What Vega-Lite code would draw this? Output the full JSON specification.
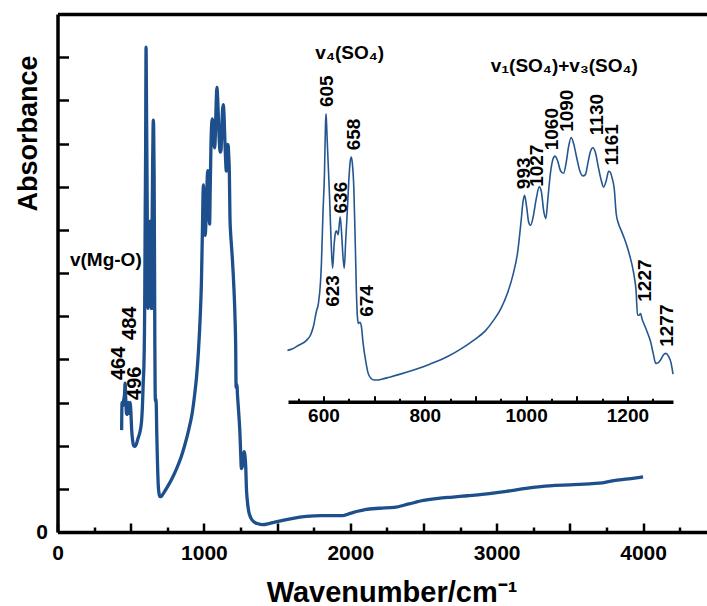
{
  "$schema": "https://vega.github.io/schema/vega-lite/v6.json",
  "width": 650,
  "height": 518,
  "autosize": {"type": "none"},
  "padding": {"left": 57.5, "top": 14, "right": 0, "bottom": 74},
  "background": "white",
  "config": {
    "font": "Liberation Sans",
    "view": {"stroke": null},
    "axis": {
      "grid": false,
      "domainColor": "black",
      "tickColor": "black",
      "labelColor": "black",
      "titleColor": "black",
      "labelFont": "Liberation Sans",
      "titleFont": "Liberation Sans",
      "labelFontWeight": "bold",
      "titleFontWeight": "bold",
      "labelFlush": false,
      "labelOverlap": false
    },
    "text": {"font": "Liberation Sans", "fontWeight": "bold", "color": "black"}
  },
  "datasets": {
    "spectrum": [
      {"wavenumber": 438, "absorbance": 2.36},
      {"wavenumber": 441, "absorbance": 3.0},
      {"wavenumber": 446, "absorbance": 2.92},
      {"wavenumber": 452, "absorbance": 3.05},
      {"wavenumber": 458, "absorbance": 3.2},
      {"wavenumber": 462, "absorbance": 3.45},
      {"wavenumber": 466, "absorbance": 3.1},
      {"wavenumber": 471, "absorbance": 2.75},
      {"wavenumber": 476, "absorbance": 2.72},
      {"wavenumber": 481, "absorbance": 2.95},
      {"wavenumber": 485, "absorbance": 3.0},
      {"wavenumber": 489, "absorbance": 2.75},
      {"wavenumber": 493, "absorbance": 2.78},
      {"wavenumber": 497, "absorbance": 3.0},
      {"wavenumber": 501, "absorbance": 2.8},
      {"wavenumber": 507, "absorbance": 2.35},
      {"wavenumber": 514, "absorbance": 2.1},
      {"wavenumber": 522, "absorbance": 1.99},
      {"wavenumber": 529, "absorbance": 1.98},
      {"wavenumber": 538, "absorbance": 2.03},
      {"wavenumber": 551, "absorbance": 2.18},
      {"wavenumber": 567, "absorbance": 2.38},
      {"wavenumber": 575, "absorbance": 2.6},
      {"wavenumber": 580, "absorbance": 2.9},
      {"wavenumber": 586, "absorbance": 3.5},
      {"wavenumber": 590, "absorbance": 3.81},
      {"wavenumber": 594, "absorbance": 4.6},
      {"wavenumber": 596, "absorbance": 5.39},
      {"wavenumber": 599, "absorbance": 7.34},
      {"wavenumber": 602, "absorbance": 8.9},
      {"wavenumber": 604, "absorbance": 10.8},
      {"wavenumber": 605, "absorbance": 11.23},
      {"wavenumber": 606, "absorbance": 10.9},
      {"wavenumber": 608, "absorbance": 9.9},
      {"wavenumber": 612, "absorbance": 8.0},
      {"wavenumber": 615, "absorbance": 6.3},
      {"wavenumber": 618, "absorbance": 5.18},
      {"wavenumber": 621, "absorbance": 6.1},
      {"wavenumber": 624, "absorbance": 6.6},
      {"wavenumber": 626, "absorbance": 6.65},
      {"wavenumber": 629, "absorbance": 6.5},
      {"wavenumber": 633, "absorbance": 7.2},
      {"wavenumber": 636, "absorbance": 6.5},
      {"wavenumber": 638, "absorbance": 5.8},
      {"wavenumber": 641, "absorbance": 5.18},
      {"wavenumber": 644, "absorbance": 6.3},
      {"wavenumber": 647, "absorbance": 7.4},
      {"wavenumber": 650, "absorbance": 8.6},
      {"wavenumber": 653, "absorbance": 9.4},
      {"wavenumber": 655, "absorbance": 9.54},
      {"wavenumber": 657, "absorbance": 9.3},
      {"wavenumber": 660, "absorbance": 8.3},
      {"wavenumber": 663, "absorbance": 6.0},
      {"wavenumber": 665, "absorbance": 4.3},
      {"wavenumber": 667, "absorbance": 3.3},
      {"wavenumber": 669, "absorbance": 3.03},
      {"wavenumber": 672, "absorbance": 3.08},
      {"wavenumber": 675, "absorbance": 2.9},
      {"wavenumber": 678, "absorbance": 2.3},
      {"wavenumber": 682, "absorbance": 1.73},
      {"wavenumber": 688, "absorbance": 1.1},
      {"wavenumber": 694, "absorbance": 0.88},
      {"wavenumber": 700, "absorbance": 0.82},
      {"wavenumber": 706, "absorbance": 0.82},
      {"wavenumber": 715, "absorbance": 0.85},
      {"wavenumber": 730, "absorbance": 0.93},
      {"wavenumber": 750, "absorbance": 1.04},
      {"wavenumber": 778, "absorbance": 1.21},
      {"wavenumber": 810, "absorbance": 1.44},
      {"wavenumber": 844, "absorbance": 1.73},
      {"wavenumber": 870, "absorbance": 2.02},
      {"wavenumber": 897, "absorbance": 2.38},
      {"wavenumber": 920, "absorbance": 2.75},
      {"wavenumber": 936, "absorbance": 3.16},
      {"wavenumber": 950, "absorbance": 3.6},
      {"wavenumber": 963, "absorbance": 4.2},
      {"wavenumber": 975, "absorbance": 5.0},
      {"wavenumber": 983, "absorbance": 5.77},
      {"wavenumber": 990, "absorbance": 7.0},
      {"wavenumber": 994, "absorbance": 7.8},
      {"wavenumber": 997, "absorbance": 8.04},
      {"wavenumber": 1001, "absorbance": 7.6},
      {"wavenumber": 1005, "absorbance": 7.0},
      {"wavenumber": 1009, "absorbance": 6.87},
      {"wavenumber": 1014, "absorbance": 7.2},
      {"wavenumber": 1020, "absorbance": 7.9},
      {"wavenumber": 1026, "absorbance": 8.37},
      {"wavenumber": 1030, "absorbance": 8.2},
      {"wavenumber": 1035, "absorbance": 7.4},
      {"wavenumber": 1039, "absorbance": 7.13},
      {"wavenumber": 1043, "absorbance": 7.9},
      {"wavenumber": 1048, "absorbance": 8.9},
      {"wavenumber": 1053, "absorbance": 9.45},
      {"wavenumber": 1057, "absorbance": 9.57},
      {"wavenumber": 1062, "absorbance": 9.4},
      {"wavenumber": 1068, "absorbance": 9.0},
      {"wavenumber": 1074, "absorbance": 8.9},
      {"wavenumber": 1079, "absorbance": 9.3},
      {"wavenumber": 1084, "absorbance": 9.95},
      {"wavenumber": 1089, "absorbance": 10.3},
      {"wavenumber": 1094, "absorbance": 10.05},
      {"wavenumber": 1100, "absorbance": 9.5},
      {"wavenumber": 1106, "absorbance": 9.0},
      {"wavenumber": 1112, "absorbance": 8.8},
      {"wavenumber": 1117, "absorbance": 8.85},
      {"wavenumber": 1122, "absorbance": 9.3},
      {"wavenumber": 1127, "absorbance": 9.75},
      {"wavenumber": 1132, "absorbance": 9.9},
      {"wavenumber": 1137, "absorbance": 9.7},
      {"wavenumber": 1142, "absorbance": 9.2},
      {"wavenumber": 1148, "absorbance": 8.65},
      {"wavenumber": 1153, "absorbance": 8.36},
      {"wavenumber": 1158, "absorbance": 8.6},
      {"wavenumber": 1163, "absorbance": 8.98},
      {"wavenumber": 1166, "absorbance": 8.95},
      {"wavenumber": 1170, "absorbance": 8.7},
      {"wavenumber": 1174, "absorbance": 8.3},
      {"wavenumber": 1178, "absorbance": 7.3},
      {"wavenumber": 1183, "absorbance": 6.9},
      {"wavenumber": 1188, "absorbance": 6.65},
      {"wavenumber": 1194, "absorbance": 6.35},
      {"wavenumber": 1200, "absorbance": 6.0},
      {"wavenumber": 1205, "absorbance": 5.65},
      {"wavenumber": 1210, "absorbance": 5.24},
      {"wavenumber": 1214, "absorbance": 4.8},
      {"wavenumber": 1217, "absorbance": 4.33},
      {"wavenumber": 1220, "absorbance": 3.35},
      {"wavenumber": 1223, "absorbance": 3.35},
      {"wavenumber": 1226, "absorbance": 3.42},
      {"wavenumber": 1229, "absorbance": 3.2},
      {"wavenumber": 1234, "absorbance": 2.95},
      {"wavenumber": 1240, "absorbance": 2.65},
      {"wavenumber": 1246, "absorbance": 2.3},
      {"wavenumber": 1251, "absorbance": 1.85},
      {"wavenumber": 1256, "absorbance": 1.47},
      {"wavenumber": 1261, "absorbance": 1.5},
      {"wavenumber": 1266, "absorbance": 1.62},
      {"wavenumber": 1271, "absorbance": 1.8},
      {"wavenumber": 1276, "absorbance": 1.86},
      {"wavenumber": 1281, "absorbance": 1.75},
      {"wavenumber": 1286, "absorbance": 1.5},
      {"wavenumber": 1290, "absorbance": 1.05},
      {"wavenumber": 1296, "absorbance": 0.75},
      {"wavenumber": 1305, "absorbance": 0.5},
      {"wavenumber": 1320, "absorbance": 0.33},
      {"wavenumber": 1340, "absorbance": 0.24},
      {"wavenumber": 1370, "absorbance": 0.19},
      {"wavenumber": 1400, "absorbance": 0.17},
      {"wavenumber": 1450, "absorbance": 0.2},
      {"wavenumber": 1500, "absorbance": 0.24},
      {"wavenumber": 1600, "absorbance": 0.31},
      {"wavenumber": 1700, "absorbance": 0.36},
      {"wavenumber": 1800, "absorbance": 0.38},
      {"wavenumber": 1900, "absorbance": 0.38},
      {"wavenumber": 1950, "absorbance": 0.38},
      {"wavenumber": 2000, "absorbance": 0.43},
      {"wavenumber": 2050, "absorbance": 0.48},
      {"wavenumber": 2100, "absorbance": 0.52},
      {"wavenumber": 2200, "absorbance": 0.55},
      {"wavenumber": 2300, "absorbance": 0.57},
      {"wavenumber": 2400, "absorbance": 0.65},
      {"wavenumber": 2500, "absorbance": 0.73},
      {"wavenumber": 2600, "absorbance": 0.78},
      {"wavenumber": 2700, "absorbance": 0.81},
      {"wavenumber": 2800, "absorbance": 0.84},
      {"wavenumber": 2900, "absorbance": 0.87},
      {"wavenumber": 3000, "absorbance": 0.91},
      {"wavenumber": 3100, "absorbance": 0.96},
      {"wavenumber": 3200, "absorbance": 1.01},
      {"wavenumber": 3300, "absorbance": 1.05},
      {"wavenumber": 3400, "absorbance": 1.08},
      {"wavenumber": 3500, "absorbance": 1.09},
      {"wavenumber": 3600, "absorbance": 1.11},
      {"wavenumber": 3700, "absorbance": 1.13},
      {"wavenumber": 3800, "absorbance": 1.19},
      {"wavenumber": 3900, "absorbance": 1.23},
      {"wavenumber": 4000, "absorbance": 1.28}
    ],
    "mainPeaks": [
      {"label": "464", "wavenumber": 421, "absorbance": 3.52},
      {"label": "484", "wavenumber": 495, "absorbance": 4.45},
      {"label": "496", "wavenumber": 529, "absorbance": 3.06}
    ],
    "mainNotes": [
      {"label": "v(Mg-O)", "wavenumber": 85, "absorbance": 6.3}
    ],
    "insetPeaks": [
      {"label": "605", "wavenumber": 606, "absorbance": 11.49},
      {"label": "623", "wavenumber": 618, "absorbance": 3.68},
      {"label": "636", "wavenumber": 634, "absorbance": 7.33},
      {"label": "658", "wavenumber": 661, "absorbance": 9.8},
      {"label": "674", "wavenumber": 685, "absorbance": 3.29},
      {"label": "993", "wavenumber": 996, "absorbance": 8.28},
      {"label": "1027", "wavenumber": 1022, "absorbance": 8.37},
      {"label": "1060", "wavenumber": 1052, "absorbance": 9.8},
      {"label": "1090", "wavenumber": 1081, "absorbance": 10.52},
      {"label": "1130", "wavenumber": 1139, "absorbance": 10.39},
      {"label": "1161", "wavenumber": 1169, "absorbance": 9.21},
      {"label": "1227", "wavenumber": 1235, "absorbance": 3.88},
      {"label": "1277", "wavenumber": 1279, "absorbance": 2.12}
    ],
    "insetNotes": [
      {"label": "v₄(SO₄)", "wavenumber": 584, "absorbance": 13.38},
      {"label": "v₁(SO₄)+v₃(SO₄)", "wavenumber": 930, "absorbance": 12.86}
    ]
  },
  "resolve": {"scale": {"x": "independent", "y": "independent"}},
  "layer": [
    {
      "data": {"name": "spectrum"},
      "mark": {"type": "line", "color": "#1c4f8b", "strokeWidth": 3.3, "interpolate": "monotone"},
      "encoding": {
        "x": {"field": "wavenumber", "type": "quantitative",
          "scale": {"domain": [0, 4440], "nice": false, "zero": false},
          "axis": {"orient": "bottom", "values": [0, 500, 1000, 1500, 2000, 2500, 3000, 3500, 4000],
            "tickSize": -9, "tickWidth": 2.5, "domainWidth": 3.5, "labels": false, "title": null}},
        "y": {"field": "absorbance", "type": "quantitative",
          "scale": {"domain": [0, 12], "nice": false, "zero": true},
          "axis": {"orient": "left", "values": [0, 1, 2, 3, 4, 5, 6, 7, 8, 9, 10, 11, 12],
            "tickSize": -11, "tickWidth": 2.5, "domainWidth": 3.5,
            "labelExpr": "datum.value === 0 ? '0' : ''", "labelFontSize": 21, "labelPadding": 21,
            "title": "Absorbance", "titleFontSize": 27, "titleAngle": -90, "titleAlign": "center",
            "titleBaseline": "alphabetic", "titleX": -21, "titleY": 119}}
      }
    },
    {
      "data": {"name": "spectrum"},
      "mark": {"type": "line", "strokeOpacity": 0},
      "encoding": {
        "x": {"field": "wavenumber", "type": "quantitative",
          "scale": {"domain": [0, 4440], "nice": false, "zero": false},
          "axis": {"orient": "bottom", "values": [250, 750, 1250, 1750, 2250, 2750, 3250, 3750, 4250],
            "tickSize": -5, "tickWidth": 2.5, "domain": false, "labels": false, "title": null}},
        "y": {"field": "absorbance", "type": "quantitative",
          "scale": {"domain": [0, 12], "nice": false}, "axis": null}
      }
    },
    {
      "data": {"name": "spectrum"},
      "mark": {"type": "line", "strokeOpacity": 0},
      "encoding": {
        "x": {"field": "wavenumber", "type": "quantitative",
          "scale": {"domain": [0, 4440], "nice": false, "zero": false},
          "axis": {"orient": "bottom", "values": [0, 1000, 2000, 3000, 4000], "format": "d",
            "ticks": false, "domain": false, "labelFontSize": 21, "labelPadding": 10,
            "title": "Wavenumber/cm⁻¹", "titleFontSize": 29, "titleAlign": "center",
            "titleBaseline": "alphabetic", "titleX": 334, "titleY": 69}},
        "y": {"field": "absorbance", "type": "quantitative",
          "scale": {"domain": [0, 12], "nice": false}, "axis": null}
      }
    },
    {
      "data": {"name": "spectrum"},
      "mark": {"type": "line", "strokeOpacity": 0},
      "encoding": {
        "x": {"field": "wavenumber", "type": "quantitative",
          "scale": {"domain": [0, 4440], "nice": false, "zero": false},
          "axis": {"orient": "top", "ticks": false, "labels": false, "domainWidth": 3.5, "title": null}},
        "y": {"field": "absorbance", "type": "quantitative",
          "scale": {"domain": [0, 12], "nice": false}, "axis": null}
      }
    },
    {
      "data": {"name": "spectrum"},
      "transform": [{"filter": "datum.wavenumber >= 529 && datum.wavenumber <= 1292"}],
      "mark": {"type": "line", "color": "#24568f", "strokeWidth": 1.6, "interpolate": "monotone"},
      "encoding": {
        "x": {"field": "wavenumber", "type": "quantitative",
          "scale": {"domain": [530, 1290], "range": [230.5, 615.5], "nice": false, "zero": false},
          "axis": {"orient": "bottom", "offset": -130.3, "values": [600, 700, 800, 900, 1000, 1100, 1200],
            "tickSize": -6, "tickWidth": 2, "domainWidth": 3.5,
            "labelExpr": "datum.value % 200 === 0 ? datum.value : ''", "labelFontSize": 19, "labelPadding": 11,
            "title": null}},
        "y": {"field": "absorbance", "type": "quantitative",
          "scale": {"domain": [0, 12], "range": [387, 80], "nice": false}, "axis": null}
      }
    },
    {
      "data": {"name": "spectrum"},
      "transform": [{"filter": "datum.wavenumber >= 529 && datum.wavenumber <= 1292"}],
      "mark": {"type": "line", "strokeOpacity": 0},
      "encoding": {
        "x": {"field": "wavenumber", "type": "quantitative",
          "scale": {"domain": [530, 1290], "range": [230.5, 615.5], "nice": false, "zero": false},
          "axis": {"orient": "bottom", "offset": -130.3, "values": [550, 650, 750, 850, 950, 1050, 1150, 1250],
            "tickSize": -3.5, "tickWidth": 2, "domain": false, "labels": false, "title": null}},
        "y": {"field": "absorbance", "type": "quantitative",
          "scale": {"domain": [0, 12], "range": [387, 80], "nice": false}, "axis": null}
      }
    },
    {
      "data": {"name": "mainPeaks"},
      "mark": {"type": "text", "angle": 270, "align": "left", "baseline": "middle", "fontSize": 20},
      "encoding": {
        "x": {"field": "wavenumber", "type": "quantitative",
          "scale": {"domain": [0, 4440], "nice": false, "zero": false}, "axis": null},
        "y": {"field": "absorbance", "type": "quantitative",
          "scale": {"domain": [0, 12], "nice": false}, "axis": null},
        "text": {"field": "label", "type": "nominal"}
      }
    },
    {
      "data": {"name": "mainNotes"},
      "mark": {"type": "text", "align": "left", "baseline": "middle", "fontSize": 19},
      "encoding": {
        "x": {"field": "wavenumber", "type": "quantitative",
          "scale": {"domain": [0, 4440], "nice": false, "zero": false}, "axis": null},
        "y": {"field": "absorbance", "type": "quantitative",
          "scale": {"domain": [0, 12], "nice": false}, "axis": null},
        "text": {"field": "label", "type": "nominal"}
      }
    },
    {
      "data": {"name": "insetPeaks"},
      "mark": {"type": "text", "angle": 270, "align": "left", "baseline": "middle", "fontSize": 19},
      "encoding": {
        "x": {"field": "wavenumber", "type": "quantitative",
          "scale": {"domain": [530, 1290], "range": [230.5, 615.5], "nice": false, "zero": false}, "axis": null},
        "y": {"field": "absorbance", "type": "quantitative",
          "scale": {"domain": [0, 12], "range": [387, 80], "nice": false}, "axis": null},
        "text": {"field": "label", "type": "nominal"}
      }
    },
    {
      "data": {"name": "insetNotes"},
      "mark": {"type": "text", "align": "left", "baseline": "alphabetic", "fontSize": 19},
      "encoding": {
        "x": {"field": "wavenumber", "type": "quantitative",
          "scale": {"domain": [530, 1290], "range": [230.5, 615.5], "nice": false, "zero": false}, "axis": null},
        "y": {"field": "absorbance", "type": "quantitative",
          "scale": {"domain": [0, 12], "range": [387, 80], "nice": false}, "axis": null},
        "text": {"field": "label", "type": "nominal"}
      }
    }
  ]
}
